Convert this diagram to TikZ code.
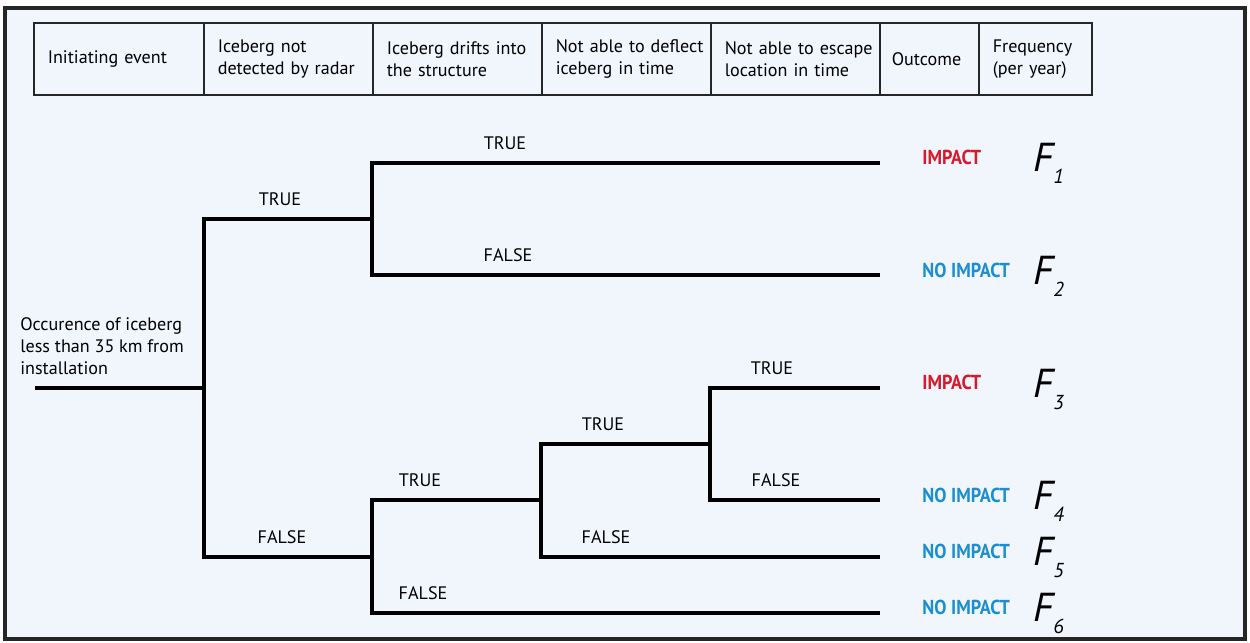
\documentclass[tikz,border=0pt]{standalone}
\usepackage{fontspec}
\setmainfont{PT Sans}
\usepackage{graphicx}
\definecolor{bg}{HTML}{F1F5FC}
\definecolor{impred}{HTML}{D8192C}
\definecolor{impblue}{HTML}{1C8ED0}
\newcommand{\outc}[2]{\textcolor{#1}{\scalebox{0.9}[1]{\bfseries #2}}}
\newcommand{\freq}[1]{{\fontsize{23}{23}\selectfont\itshape F}\raisebox{-0.24cm}{\fontsize{11.5}{11.5}\selectfont\itshape #1}}
\begin{document}
\begin{tikzpicture}[x=0.02cm,y=-0.02cm,
  tree/.style={line width=2pt},
  hcell/.style={draw=black!85, line width=0.9pt, fill=bg, anchor=north west,
    minimum height=1.44cm, inner xsep=0.28cm, inner ysep=0pt, align=left,
    font=\fontsize{10.3}{12.5}\selectfont},
  lbl/.style={font=\fontsize{10.3}{12}\selectfont, inner sep=0pt, anchor=base},
  outcome/.style={font=\fontsize{11.5}{12}\selectfont, inner sep=0pt, anchor=west},
  fq/.style={inner sep=0pt, anchor=west}]
\useasboundingbox (0,0) rectangle (1250,642);
\draw[line width=1.8pt, fill=bg, draw=black!85] (5,8) rectangle (1245,639);
% header
\node[hcell, text width=2.84cm] (h1) at (33,22) {\mbox{Initiating event}};
\node[hcell, text width=2.82cm] (h2) at (203,22) {\mbox{Iceberg not}\\\mbox{detected by radar}};
\node[hcell, text width=2.82cm] (h3) at (372,22) {\mbox{Iceberg drifts into}\\\mbox{the structure}};
\node[hcell, text width=2.82cm] (h4) at (541,22) {\mbox{Not able to deflect}\\\mbox{iceberg in time}};
\node[hcell, text width=2.82cm] (h5) at (710,22) {\mbox{Not able to escape}\\\mbox{location in time}};
\node[hcell, text width=1.5cm, inner xsep=0.24cm] (h6) at (879,22) {\mbox{Outcome}};
\node[hcell, text width=1.7cm] (h7) at (978,22) {\mbox{Frequency}\\\mbox{(per year)}};
% left text
\node[anchor=north west, inner sep=0pt, align=left, font=\fontsize{10.3}{12.5}\selectfont] (init) at (20,317)
  {Occurence of iceberg\\less than 35 km from\\installation};
% tree coordinates
\coordinate (R) at (35,388);
\coordinate (A) at (204,388);
\coordinate (B) at (372,219);
\coordinate (C) at (372,557);
\coordinate (D) at (541,500);
\coordinate (G) at (710,444);
\coordinate (E1) at (880,163);
\coordinate (E2) at (880,275);
\coordinate (E3) at (880,388);
\coordinate (E4) at (880,500);
\coordinate (E5) at (880,557);
\coordinate (E6) at (880,613);
\draw[tree] (R) -- (A);
\draw[tree] (B) -| (A) |- (C);
\draw[tree] (E1) -| (B) |- (E2);
\draw[tree] (D) -| (C) |- (E6);
\draw[tree] (G) -| (D) |- (E5);
\draw[tree] (E3) -| (G) |- (E4);
% branch labels
\node[lbl] (l1) at (280,205) {TRUE};
\node[lbl] (l2) at (282,543) {FALSE};
\node[lbl] (l3) at (505,149) {TRUE};
\node[lbl] (l4) at (508,261) {FALSE};
\node[lbl] (l5) at (420,486) {TRUE};
\node[lbl] (l6) at (423,599) {FALSE};
\node[lbl] (l7) at (603,430) {TRUE};
\node[lbl] (l8) at (606,543) {FALSE};
\node[lbl] (l9) at (772,374) {TRUE};
\node[lbl] (l10) at (776,486) {FALSE};
% outcomes
\node[outcome] (o1) at (922,157) {\outc{impred}{IMPACT}};
\node[outcome] (o2) at (922,270) {\outc{impblue}{NO IMPACT}};
\node[outcome] (o3) at (922,382) {\outc{impred}{IMPACT}};
\node[outcome] (o4) at (922,495) {\outc{impblue}{NO IMPACT}};
\node[outcome] (o5) at (922,551) {\outc{impblue}{NO IMPACT}};
\node[outcome] (o6) at (922,607) {\outc{impblue}{NO IMPACT}};
% frequencies
\node[fq] (f1) at (1033,163) {\freq{1}};
\node[fq] (f2) at (1033,276) {\freq{2}};
\node[fq] (f3) at (1033,389) {\freq{3}};
\node[fq] (f4) at (1033,501) {\freq{4}};
\node[fq] (f5) at (1033,557) {\freq{5}};
\node[fq] (f6) at (1033,613) {\freq{6}};
\end{tikzpicture}
\end{document}
